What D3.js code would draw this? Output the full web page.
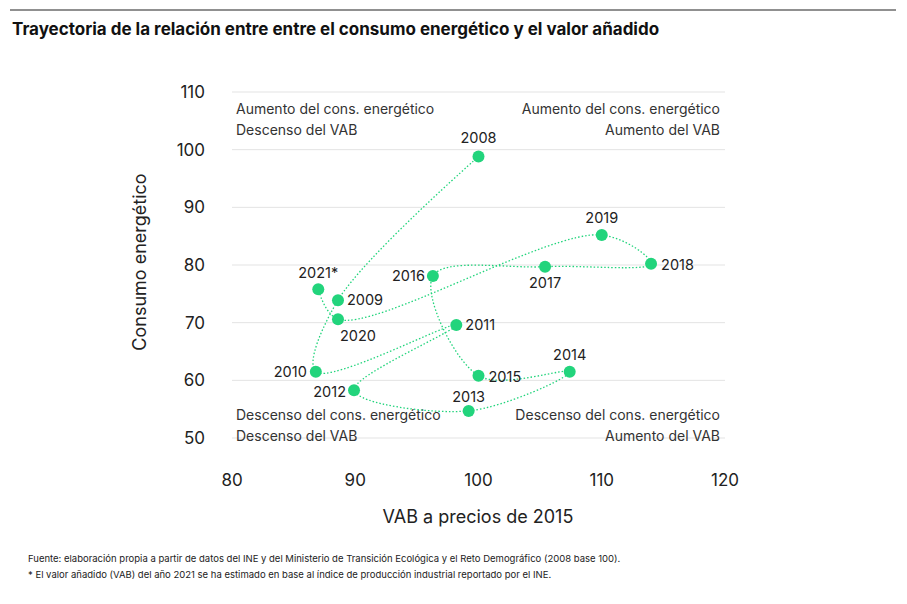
<!DOCTYPE html>
<html><head><meta charset="utf-8">
<script src="https://cdn.jsdelivr.net/npm/d3@7"></script>
<style>body{margin:0;background:#fff;font-family:Inter,"Noto Sans",sans-serif}</style>
</head><body>
<script>
// Data
var years = ["2008","2009","2010","2011","2012","2013","2014","2015","2016","2017","2018","2019","2020","2021*"];
var vab = [100, 88.6, 86.8, 98.2, 89.9, 99.2, 107.4, 100, 96.3, 105.4, 114.0, 110, 88.6, 87.0];
var energia = [98.8, 73.9, 61.5, 69.6, 58.3, 54.7, 61.5, 60.8, 78.1, 79.7, 80.2, 85.2, 70.6, 75.8];
var xTicks = [80, 90, 100, 110, 120];
var yTicks = [50, 60, 70, 80, 90, 100, 110];

// Label placement (styling)
var labelPos = {
  "2008":[0,-14,"middle"], "2009":[9,5,"start"], "2010":[-9,5,"end"], "2011":[9,5,"start"],
  "2012":[-8,7,"end"], "2013":[0,-9,"middle"], "2014":[0,-12,"middle"], "2015":[10,6,"start"],
  "2016":[-8,5,"end"], "2017":[0,21,"middle"], "2018":[10,6,"start"], "2019":[0,-12,"middle"],
  "2020":[2,22,"start"], "2021*":[0,-11,"middle"]
};

var width = 907, height = 604;
var svg = d3.select("body").append("svg").attr("width", width).attr("height", height);
var green = "#22d47c";

svg.append("line").attr("x1", 10).attr("x2", 896).attr("y1", 10).attr("y2", 10).attr("stroke", "#222").attr("stroke-width", 1.2);
svg.append("text").attr("x", 12).attr("y", 35).attr("font-size", 17).attr("font-weight", 700).attr("fill", "#111")
  .text("Trayectoria de la relación entre entre el consumo energético y el valor añadido");

var x = d3.scaleLinear().domain([80, 120]).range([232, 725]);
var y = d3.scaleLinear().domain([50, 110]).range([438, 92]);

// Grid + tick labels
svg.append("g").selectAll("line").data(yTicks).enter().append("line")
  .attr("x1", 232).attr("x2", 725).attr("y1", d => y(d)).attr("y2", d => y(d))
  .attr("stroke", "#e3e3e3");
svg.append("g").selectAll("text").data(yTicks).enter().append("text")
  .attr("x", 205).attr("y", d => y(d) + 6).attr("text-anchor", "end")
  .attr("font-size", 17).attr("fill", "#222").text(d => d);
svg.append("g").selectAll("text").data(xTicks).enter().append("text")
  .attr("x", d => x(d)).attr("y", 486).attr("text-anchor", "middle")
  .attr("font-size", 17).attr("fill", "#222").text(d => d);

svg.append("text").attr("x", 478).attr("y", 523).attr("text-anchor", "middle")
  .attr("font-size", 18).attr("fill", "#222").text("VAB a precios de 2015");
svg.append("text").attr("transform", "translate(146,262) rotate(-90)").attr("text-anchor", "middle")
  .attr("font-size", 18).attr("fill", "#222").text("Consumo energético");

// Quadrant labels
var quad = [
  [236, 114, "start", "Aumento del cons. energético"], [236, 135, "start", "Descenso del VAB"],
  [720, 114, "end", "Aumento del cons. energético"], [720, 135, "end", "Aumento del VAB"],
  [236, 420, "start", "Descenso del cons. energético"], [236, 441, "start", "Descenso del VAB"],
  [720, 420, "end", "Descenso del cons. energético"], [720, 441, "end", "Aumento del VAB"]
];
svg.append("g").selectAll("text").data(quad).enter().append("text")
  .attr("x", d => d[0]).attr("y", d => d[1]).attr("text-anchor", d => d[2])
  .attr("font-size", 14).attr("fill", "#333").text(d => d[3]);

var pts = years.map((yr, i) => ({yr: yr, x: vab[i], y: energia[i]}));

var line = d3.line().x(d => x(d.x)).y(d => y(d.y)).curve(d3.curveCatmullRom.alpha(0.5));
svg.append("path").datum(pts).attr("d", line).attr("fill", "none")
  .attr("stroke", green).attr("stroke-width", 1.3).attr("stroke-dasharray", "1.5,2");

svg.append("g").selectAll("circle").data(pts).enter().append("circle")
  .attr("cx", d => x(d.x)).attr("cy", d => y(d.y)).attr("r", 6).attr("fill", green);

svg.append("g").selectAll("text").data(pts).enter().append("text")
  .attr("x", d => x(d.x) + labelPos[d.yr][0]).attr("y", d => y(d.y) + labelPos[d.yr][1])
  .attr("text-anchor", d => labelPos[d.yr][2]).attr("font-size", 14.5).attr("fill", "#222")
  .text(d => d.yr);

svg.append("text").attr("x", 28).attr("y", 562).attr("font-size", 9.5).attr("fill", "#222")
  .text("Fuente: elaboración propia a partir de datos del INE y del Ministerio de Transición Ecológica y el Reto Demográfico (2008 base 100).");
svg.append("text").attr("x", 28).attr("y", 578).attr("font-size", 9.5).attr("fill", "#222")
  .text("* El valor añadido (VAB) del año 2021 se ha estimado en base al índice de producción industrial reportado por el INE.");
</script>
</body></html>
